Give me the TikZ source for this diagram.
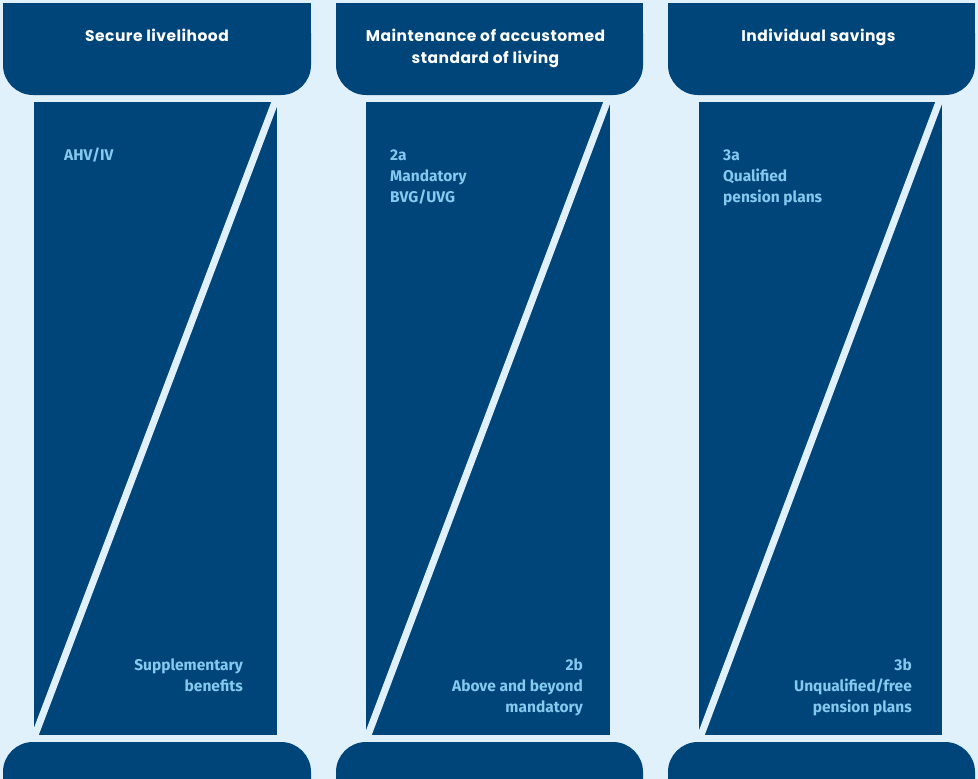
\documentclass[tikz,border=0pt]{standalone}
\usepackage{fontspec}
\newfontfamily\headfont[LetterSpace=3]{Poppins}
\newfontfamily\tagfont{Fira Sans}
\usetikzlibrary{positioning}
\definecolor{pillarblue}{HTML}{00457A}
\definecolor{skyback}{HTML}{E1F1FC}
\definecolor{tagblue}{HTML}{86C9EE}

\begin{document}
\begin{tikzpicture}[
  x=1pt,y=-1pt,
  header/.style={font=\headfont\bfseries\fontsize{15.5}{22}\selectfont,text=white,align=center,inner sep=0pt},
  tag/.style={font=\tagfont\bfseries\fontsize{15.5}{21}\selectfont,text=tagblue,inner sep=0pt},
  roof/.style={fill=pillarblue,rounded corners=30pt},
  shaft/.style={fill=pillarblue},
  split/.style={draw=skyback,line width=7pt}
  ]
  \fill[skyback] (0,0) rectangle (978,779);
  \useasboundingbox (0,0) rectangle (978,779);
  \clip (0,0) rectangle (978,779);

  \path[roof] (3,3) rectangle (311,95);
  \path[shaft] (3,3) rectangle (311,50);
  \path[roof] (3,742) rectangle (311,830);
  \path[shaft] (34,102) rectangle (277,735);
  \path[split] (276.5,98) -- (33.5,739);

  \path[roof] (336,3) rectangle (643,95);
  \path[shaft] (336,3) rectangle (643,50);
  \path[roof] (336,742) rectangle (643,830);
  \path[shaft] (366,102) rectangle (610,735);
  \path[split] (608.5,98) -- (366.5,739);

  \path[roof] (668,3) rectangle (975,95);
  \path[shaft] (668,3) rectangle (975,50);
  \path[roof] (668,742) rectangle (975,830);
  \path[shaft] (699,102) rectangle (942,735);
  \path[split] (940.5,98) -- (699.5,739);

  \node (secure)        [header,anchor=base] at (157,41)   {Secure livelihood};
  \node (maintenance)   [header,anchor=base] at (485.5,63) {Maintenance of accustomed\\standard of living};
  \node (savings)       [header,anchor=base] at (818.5,41) {Individual savings};

  \node (ahv)           [tag,anchor=base west,align=left]  at (64,160)  {AHV/IV};
  \node (supplementary) [tag,anchor=base east,align=right] at (243,691) {Supplementary\\benefits};
  \node (mandatory)     [tag,anchor=base west,align=left]  at (390,202) {2a\\Mandatory\\BVG/UVG};
  \node (beyond)        [tag,anchor=base east,align=right] at (583,712) {2b\\Above and beyond\\mandatory};
  \node (qualified)     [tag,anchor=base west,align=left]  at (723,202) {3a\\Qualified\\pension plans};
  \node (unqualified)   [tag,anchor=base east,align=right] at (912,712) {3b\\Unqualified/free\\pension plans};
\end{tikzpicture}
\end{document}
